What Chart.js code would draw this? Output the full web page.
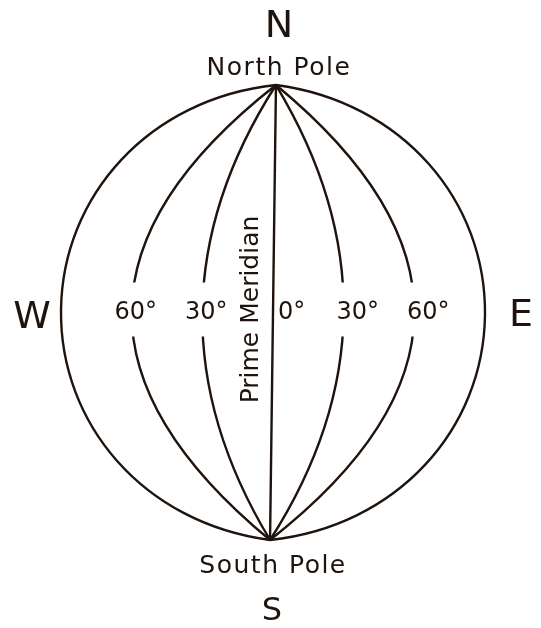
<!DOCTYPE html>
<html>
<head>
<meta charset="utf-8">
<script src="https://cdn.jsdelivr.net/npm/chart.js@4"></script>
<style>
  body { margin: 0; background: #ffffff; }
</style>
</head>
<body>
<canvas id="globo" width="541" height="628"></canvas>
<script>
// meridianos (longitud) y sus etiquetas
const meridianLongitudes = [-60, -30, 0, 30, 60];
const meridianLabels = ["60°", "30°", "0°", "30°", "60°"];
const boundaryLongitudes = [-90, 90];
const poleLatitudes = [90, -90];
const poleNames = ["North Pole", "South Pole"];
const poleLetters = ["N", "S"];
const sideLetters = ["W", "E"];
const primeMeridianName = "Prime Meridian";

const ink = '#1f140d';
const tilt = 0.013;

const globePlugin = {
  id: 'globePlugin',
  afterDraw(chart) {
    const ctx = chart.ctx;
    const x = chart.scales.x;
    const y = chart.scales.y;
    const cx = x.getPixelForValue(0);
    const cy = y.getPixelForValue(0);
    const ry = Math.abs(y.getPixelForValue(poleLatitudes[0]) - cy);

    ctx.save();
    ctx.strokeStyle = ink;
    ctx.lineWidth = 2.4;

    ctx.save();
    ctx.translate(cx, cy);
    ctx.rotate(tilt);
    // borde exterior (casi una elipse, algo en punta en los polos)
    boundaryLongitudes.forEach(lon => {
      const dx = x.getPixelForValue(lon) - cx;
      const a = 0.6 * dx;
      const drop = Math.abs(a) * 0.12;
      const b = 0.5 * ry;
      ctx.beginPath();
      ctx.moveTo(0, -ry);
      ctx.bezierCurveTo(a, -ry + drop, dx, -b, dx, 0);
      ctx.bezierCurveTo(dx, b, a, ry - drop, 0, ry);
      ctx.stroke();
    });
    // meridianos interiores: curvas de polo a polo
    meridianLongitudes.forEach(lon => {
      const d = x.getPixelForValue(lon) - cx;
      ctx.beginPath();
      ctx.moveTo(0, -ry);
      ctx.quadraticCurveTo(2 * d, 0, 0, ry);
      ctx.stroke();
    });
    ctx.restore();

    ctx.fillStyle = ink;
    ctx.textAlign = 'center';
    ctx.textBaseline = 'alphabetic';

    // etiquetas de grados, con hueco blanco sobre la linea
    ctx.font = '24px "DejaVu Sans"';
    meridianLongitudes.forEach((lon, i) => {
      const px = x.getPixelForValue(lon);
      const w = ctx.measureText(meridianLabels[i]).width;
      if (lon === 0) {
        ctx.textAlign = 'left';
        ctx.fillText(meridianLabels[i], px + 5, cy + 6);
        ctx.textAlign = 'center';
      } else {
        const lx = px + (lon < 0 ? 4 : 14);
        ctx.fillStyle = '#ffffff';
        ctx.fillRect(lx - w / 2 - 4, cy - 30, w + 8, 54);
        ctx.fillStyle = ink;
        ctx.fillText(meridianLabels[i], lx, cy + 6);
      }
    });

    // Prime Meridian vertical
    ctx.save();
    ctx.translate(cx - 15, cy - 3);
    ctx.rotate(-Math.PI / 2);
    ctx.font = '25px "DejaVu Sans"';
    ctx.fillText(primeMeridianName, 0, 0);
    ctx.restore();

    // polos
    ctx.font = '25px "DejaVu Sans"';
    ctx.letterSpacing = '1.5px';
    poleLatitudes.forEach((lat, i) => {
      const py = y.getPixelForValue(lat);
      const px = cx + (lat > 0 ? 1 : -1) * ry * Math.sin(tilt);
      if (lat > 0) {
        ctx.fillText(poleNames[i], px + 3, py - 10);
      } else {
        ctx.fillText(poleNames[i], px + 3, py + 33);
      }
    });
    ctx.letterSpacing = '0px';

    ctx.font = '38px "DejaVu Sans"';
    ctx.fillText(poleLetters[0], cx + 6, y.getPixelForValue(poleLatitudes[0]) - 48);
    ctx.font = '32px "DejaVu Sans"';
    ctx.fillText(poleLetters[1], cx - 1, y.getPixelForValue(poleLatitudes[1]) + 80);

    ctx.font = '38px "DejaVu Sans"';
    ctx.fillText(sideLetters[0], x.getPixelForValue(boundaryLongitudes[0]) - 29, cy + 15);
    ctx.fillText(sideLetters[1], x.getPixelForValue(boundaryLongitudes[1]) + 36, cy + 13);

    ctx.restore();
  }
};

let globo = document.getElementById("globo").getContext('2d');

var chart = new Chart(globo, {
  type: 'scatter',
  data: {
    datasets: [{
      label: 'Poles',
      data: poleLatitudes.map(lat => ({ x: 0, y: lat })),
      pointRadius: 0,
      showLine: false
    }]
  },
  options: {
    responsive: false,
    animation: false,
    layout: { padding: { left: 61, right: 56, top: 85, bottom: 88 } },
    plugins: { legend: { display: false }, tooltip: { enabled: false } },
    scales: {
      x: { type: 'linear', min: -90, max: 90, display: false },
      y: { type: 'linear', min: -90, max: 90, display: false }
    }
  },
  plugins: [globePlugin]
});
</script>
</body>
</html>
